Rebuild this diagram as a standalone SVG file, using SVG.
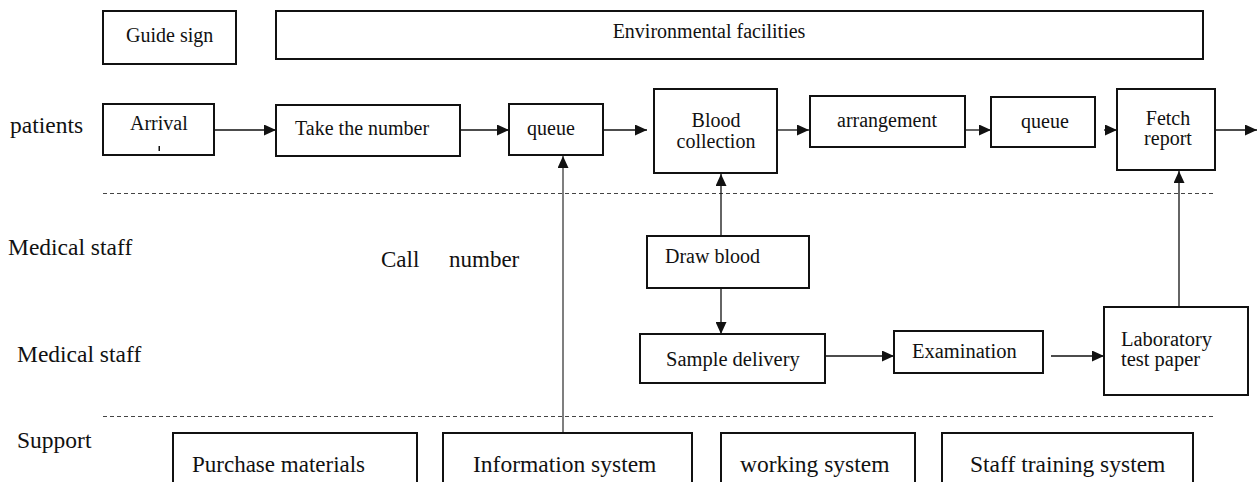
<svg xmlns="http://www.w3.org/2000/svg" width="1260" height="482" viewBox="0 0 1260 482">
<style>
.box{fill:#fff;stroke:#111;stroke-width:2}
text{font-family:'Liberation Serif','DejaVu Serif','Times New Roman',serif;fill:#111;font-size:20px}
.lab{font-size:23.5px}
.big{font-size:23.5px}
.c{text-anchor:middle}
.ln{stroke:#111;stroke-width:1.3;fill:none}
.gl{stroke:#555;stroke-width:1.5;fill:none}
.dash{stroke:#444;stroke-width:1;stroke-dasharray:4 3;fill:none}
</style>
<defs>
<marker id="ah" viewBox="0 0 12 11" refX="12" refY="5.5" markerWidth="12" markerHeight="11" markerUnits="userSpaceOnUse" orient="auto">
<path d="M0,0 L12,5.5 L0,11 z" fill="#111"/>
</marker>
</defs>
<rect width="1260" height="482" fill="#fff"/>
<g id="lanes" font-family="Liberation Serif, serif">
<line class="dash" x1="103" y1="193.5" x2="1216" y2="193.5"/>
<line class="dash" x1="103" y1="416.5" x2="1216" y2="416.5"/>
<text class="lab" x="10" y="133">patients</text>
<text class="lab" x="8" y="255">Medical staff</text>
<text class="lab" x="17" y="362">Medical staff</text>
<text class="lab" x="17" y="448">Support</text>
<text x="381" y="267" style="font-size:23px">Call</text>
<text x="449" y="267" style="font-size:23px">number</text>
</g>
<g id="connectors">
<line class="ln" x1="207" y1="130" x2="276" y2="130" marker-end="url(#ah)"/>
<line class="ln" x1="460" y1="130" x2="509" y2="130" marker-end="url(#ah)"/>
<line class="ln" x1="603" y1="130" x2="647" y2="130" marker-end="url(#ah)"/>
<line class="ln" x1="777" y1="130" x2="809" y2="130" marker-end="url(#ah)"/>
<line class="ln" x1="965" y1="130" x2="991" y2="130" marker-end="url(#ah)"/>
<line class="ln" x1="1104" y1="130" x2="1117" y2="130" marker-end="url(#ah)"/>
<line class="ln" x1="1215" y1="130" x2="1257" y2="130" marker-end="url(#ah)"/>
<line class="ln" x1="825" y1="356" x2="894" y2="356" marker-end="url(#ah)"/>
<line class="ln" x1="1051" y1="356" x2="1104" y2="356" marker-end="url(#ah)"/>
<line class="ln" x1="721" y1="283" x2="721" y2="334" marker-end="url(#ah)"/>
<line class="ln" x1="721" y1="236" x2="721" y2="174" marker-end="url(#ah)"/>
<line class="gl" x1="563" y1="433" x2="563" y2="156" marker-end="url(#ah)"/>
<line class="ln" x1="1179" y1="307" x2="1179" y2="171" marker-end="url(#ah)"/>
</g>
<g font-family="Liberation Serif, serif">
<g id="guide-sign"><rect class="box" x="103" y="11" width="133" height="53"/><text x="126" y="42">Guide sign</text></g>
<g id="environmental-facilities"><rect class="box" x="276" y="11" width="927" height="48"/><text class="c" x="709" y="38">Environmental facilities</text></g>
<g id="arrival"><rect class="box" x="103" y="104" width="111" height="51"/><text x="130" y="130">Arrival</text><rect x="158.5" y="146" width="1.5" height="5" fill="#111"/></g>
<g id="take-number"><rect class="box" x="276" y="105" width="184" height="51"/><text x="295" y="135">Take the number</text></g>
<g id="queue1"><rect class="box" x="509" y="104" width="94" height="51"/><text class="c" x="551" y="135">queue</text></g>
<g id="blood-collection"><rect class="box" x="654" y="89" width="123" height="84"/><text class="c" x="716" y="127">Blood</text><text class="c" x="716" y="148">collection</text></g>
<g id="arrangement"><rect class="box" x="810" y="96" width="155" height="51"/><text x="837" y="127">arrangement</text></g>
<g id="queue2"><rect class="box" x="991" y="97" width="104" height="50"/><text class="c" x="1045" y="128">queue</text></g>
<g id="fetch-report"><rect class="box" x="1117" y="89" width="98" height="81"/><text class="c" x="1168" y="125">Fetch</text><text class="c" x="1168" y="145">report</text></g>
<g id="draw-blood"><rect class="box" x="647" y="236" width="162" height="52"/><text x="665" y="263">Draw blood</text></g>
<g id="sample-delivery"><rect class="box" x="640" y="334" width="185" height="49"/><text x="666" y="366" style="font-size:20.5px">Sample delivery</text></g>
<g id="examination"><rect class="box" x="894" y="331" width="149" height="42"/><text x="912" y="358" style="font-size:20.5px">Examination</text></g>
<g id="lab-test-paper"><rect class="box" x="1104" y="307" width="144" height="88"/><text x="1121" y="346" style="font-size:20.5px">Laboratory</text><text x="1121" y="366" style="font-size:20.5px">test paper</text></g>
<g id="purchase-materials"><rect class="box" x="173" y="433" width="244" height="60"/><text class="big" x="192" y="472" style="font-size:23px">Purchase materials</text></g>
<g id="information-system"><rect class="box" x="443" y="433" width="249" height="60"/><text class="big" x="473" y="472">Information system</text></g>
<g id="working-system"><rect class="box" x="721" y="433" width="194" height="60"/><text class="big" x="740" y="472">working system</text></g>
<g id="staff-training-system"><rect class="box" x="942" y="433" width="251" height="60"/><text class="big" x="970" y="472">Staff training system</text></g>
</g>
</svg>
